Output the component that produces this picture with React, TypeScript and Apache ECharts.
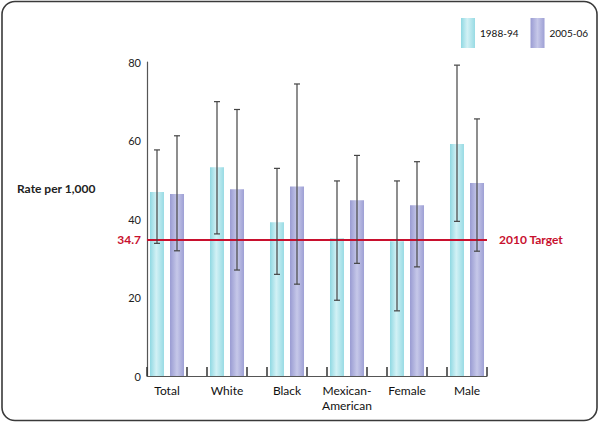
import React, { useEffect, useRef } from "react";
import * as echarts from "echarts";

const categories = ["Total", "White", "Black", "Mexican-\nAmerican", "Female", "Male"];
const seriesNames = ["1988-94", "2005-06"];
const rates1988 = [46.9, 53.2, 39.2, 35.1, 34.3, 59.1];
const rates2005 = [46.4, 47.6, 48.3, 44.8, 43.5, 49.2];
const low1988 = [33.8, 36.2, 25.9, 19.3, 16.6, 39.4];
const high1988 = [57.6, 69.9, 52.9, 49.7, 49.7, 79.2];
const low2005 = [31.9, 27.0, 23.4, 28.7, 27.8, 31.8];
const high2005 = [61.2, 67.9, 74.4, 56.2, 54.6, 65.5];
const yTicks = [0, 20, 40, 60, 80];
const targetValue = 34.7;
const targetLabel = "2010 Target";

const FONT = "Lato, 'Open Sans', sans-serif";

export default function App() {
  const ref = useRef<HTMLDivElement>(null);
  useEffect(() => {
    if (!ref.current) return;
    const chart = echarts.init(ref.current, undefined, { renderer: "svg" });
    const cyan = new echarts.graphic.LinearGradient(0, 0, 1, 0, [
      { offset: 0, color: "#8fd8e2" },
      { offset: 0.45, color: "#d2f1f5" },
      { offset: 1, color: "#98dbe4" },
    ]);
    const purple = new echarts.graphic.LinearGradient(0, 0, 1, 0, [
      { offset: 0, color: "#999bd2" },
      { offset: 0.5, color: "#c6c8e9" },
      { offset: 1, color: "#9ea0d5" },
    ]);
    const errData: number[][] = [];
    categories.forEach((_, i) => {
      errData.push([i, low1988[i], high1988[i], 0]);
      errData.push([i, low2005[i], high2005[i], 1]);
    });
    const option: any = {
      animation: false,
      textStyle: { fontFamily: FONT },
      graphic: [
        {
          type: "rect",
          shape: { x: 2, y: 1.5, width: 595, height: 419, r: 13 },
          style: { fill: "none", stroke: "#3a3a3a", lineWidth: 1.6 },
          silent: true,
        },
        {
          type: "text",
          x: 17,
          y: 188,
          style: {
            text: "Rate per 1,000",
            font: `bold 12px ${FONT}`,
            fill: "#222",
            verticalAlign: "middle",
          },
        },
      ],
      legend: {
        data: seriesNames,
        left: 456,
        top: 13,
        itemWidth: 14,
        itemHeight: 30,
        itemGap: 12,
        icon: "rect",
        textStyle: { fontSize: 10, color: "#111", fontFamily: FONT },
      },
      grid: [
        { left: 137, right: 103, top: 62, bottom: 47 },
        { left: 147, right: 113, top: 62, bottom: 47 },
      ],
      xAxis: [
        {
          type: "category",
          gridIndex: 0,
          data: categories,
          axisLine: { show: false },
          axisTick: { show: false },
          axisLabel: {
            interval: 0,
            fontSize: 12,
            color: "#111",
            margin: 7,
            lineHeight: 15,
            fontFamily: FONT,
          },
        },
        {
          type: "value",
          gridIndex: 1,
          min: 0,
          max: 1,
          axisLine: { show: true, lineStyle: { color: "#555", width: 1.2 } },
          axisTick: { show: false },
          axisLabel: { show: false },
          splitLine: { show: false },
        },
      ],
      yAxis: [
        {
          type: "value",
          gridIndex: 0,
          min: 0,
          max: 80,
          show: false,
        },
        {
          type: "value",
          gridIndex: 1,
          min: yTicks[0],
          max: yTicks[yTicks.length - 1],
          interval: yTicks[1] - yTicks[0],
          axisLine: { show: true, lineStyle: { color: "#555", width: 1.2 } },
          axisTick: { show: false },
          splitLine: { show: false },
          axisLabel: { fontSize: 11, color: "#222", margin: 6, fontFamily: FONT },
        },
      ],
      series: [
        {
          name: seriesNames[0],
          type: "bar",
          xAxisIndex: 0,
          yAxisIndex: 0,
          data: rates1988,
          barWidth: 14,
          barGap: "43%",
          itemStyle: { color: cyan },
        },
        {
          name: seriesNames[1],
          type: "bar",
          xAxisIndex: 0,
          yAxisIndex: 0,
          data: rates2005,
          barWidth: 14,
          itemStyle: { color: purple },
        },
        {
          type: "custom",
          xAxisIndex: 0,
          yAxisIndex: 0,
          data: errData,
          z: 5,
          renderItem: (params: any, api: any) => {
            const cat = api.value(0);
            const lo = api.coord([cat, api.value(1)]);
            const hi = api.coord([cat, api.value(2)]);
            const base = api.coord([cat, 0]);
            const bandW = api.size([1, 0])[0];
            const isFirst = api.value(3) === 0;
            const off = (isFirst ? -1 : 1) * (bandW / 6);
            const x = lo[0] + off;
            const cw = 3;
            const style = { stroke: "#444", lineWidth: 1.2 };
            const tx = base[0] + (isFirst ? -1 : 1) * (bandW / 3);
            return {
              type: "group",
              children: [
                { type: "line", shape: { x1: x, y1: lo[1], x2: x, y2: hi[1] }, style },
                { type: "line", shape: { x1: x - cw, y1: lo[1], x2: x + cw, y2: lo[1] }, style },
                { type: "line", shape: { x1: x - cw, y1: hi[1], x2: x + cw, y2: hi[1] }, style },
                {
                  type: "line",
                  shape: { x1: tx, y1: base[1], x2: tx, y2: base[1] - 9 },
                  style: { stroke: "#333", lineWidth: 1.5 },
                },
              ],
            };
          },
        },
        {
          type: "line",
          xAxisIndex: 1,
          yAxisIndex: 1,
          data: [],
          silent: true,
          markLine: {
            silent: true,
            symbol: "none",
            lineStyle: { color: "#c8102e", width: 2, type: "solid" },
            data: [
              {
                yAxis: targetValue,
                label: {
                  position: "start",
                  formatter: String(targetValue),
                  color: "#c8102e",
                  fontWeight: "bold",
                  fontSize: 12,
                  distance: 6,
                  fontFamily: FONT,
                },
              },
              {
                yAxis: targetValue,
                label: {
                  position: "end",
                  formatter: targetLabel,
                  color: "#c8102e",
                  fontWeight: "bold",
                  fontSize: 12,
                  distance: 12,
                  fontFamily: FONT,
                },
              },
            ],
          },
        },
      ],
    };
    chart.setOption(option);
    return () => chart.dispose();
  }, []);
  return (
    <div
      ref={ref}
      style={{ position: "fixed", left: 0, top: 0, width: 600, height: 423, background: "#fff" }}
    />
  );
}
